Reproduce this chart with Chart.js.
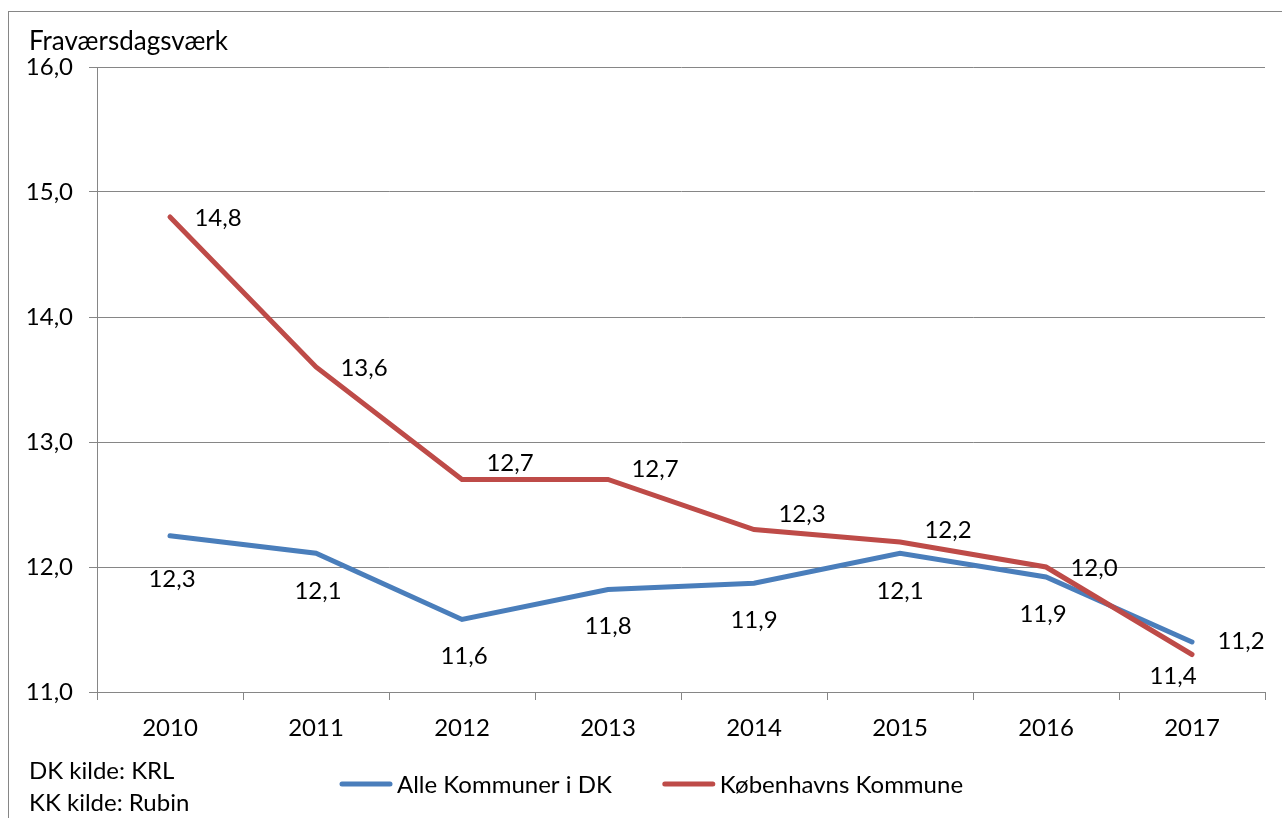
<!DOCTYPE html>
<html>
<head>
<meta charset="utf-8">
<script src="https://cdn.jsdelivr.net/npm/chart.js@4/dist/chart.umd.min.js"></script>
<style>
  html, body { margin: 0; padding: 0; background: #ffffff; }
  #wrap { width: 1282px; height: 818px; }
</style>
</head>
<body>
<div id="wrap"><canvas id="c" width="1282" height="818"></canvas></div>
<script>
// ---- data ----
const years = ['2010', '2011', '2012', '2013', '2014', '2015', '2016', '2017'];
const seriesNames = ['Alle Kommuner i DK', 'Københavns Kommune'];
const alleKommuner = [12.25, 12.11, 11.58, 11.82, 11.87, 12.11, 11.92, 11.40];
const koebenhavn = [14.8, 13.6, 12.7, 12.7, 12.3, 12.2, 12.0, 11.3];
const alleLabels = ['12,3', '12,1', '11,6', '11,8', '11,9', '12,1', '11,9', '11,4'];
const kbhLabels = ['14,8', '13,6', '12,7', '12,7', '12,3', '12,2', '12,0', '11,2'];
const yTicks = [11, 12, 13, 14, 15, 16];
const axisTitle = 'Fraværsdagsværk';
const notes = ['DK kilde: KRL', 'KK kilde: Rubin'];

// ---- style ----
const FONT = 'Lato, "Open Sans", sans-serif';
const FS = 24;
const BLUE = '#4A7EBB';
const RED = '#BE4B48';
const GRID = '#868686';
const labelOffsets = [
  { dx: [2, 2, 2, 0, 0, 0, -3, -19], dy: [44, 38, 37, 37, 37, 38, 37, 34] },
  { dx: [48, 48, 48, 47, 48, 48, 48, 49], dy: [1, 1, -16, -10, -15, -12, 1, -13] }
];
const seriesLabels = [alleLabels, kbhLabels];

const fmt = v => v.toFixed(1).replace('.', ',');

const decor = {
  id: 'decor',
  beforeDraw(chart) {
    const ctx = chart.ctx;
    ctx.save();
    ctx.fillStyle = '#ffffff';
    ctx.fillRect(0, 0, chart.width, chart.height);
    ctx.strokeStyle = GRID;
    ctx.lineWidth = 1;
    ctx.strokeRect(8.5, 11.5, 1400, 900);
    ctx.restore();
  },
  afterDatasetsDraw(chart) {
    const ctx = chart.ctx;
    ctx.save();
    ctx.font = FS + 'px ' + FONT;
    ctx.fillStyle = '#000000';
    ctx.textAlign = 'center';
    ctx.textBaseline = 'middle';
    chart.data.datasets.forEach((ds, i) => {
      const meta = chart.getDatasetMeta(i);
      meta.data.forEach((pt, j) => {
        const o = labelOffsets[i];
        ctx.fillText(seriesLabels[i][j], pt.x + o.dx[j], pt.y + o.dy[j]);
      });
    });
    ctx.restore();
  },
  afterDraw(chart) {
    const ctx = chart.ctx;
    ctx.save();
    ctx.fillStyle = '#000000';
    ctx.textAlign = 'left';
    ctx.textBaseline = 'middle';
    // axis title
    ctx.font = '26px ' + FONT;
    ctx.fillText(axisTitle, 29, 42);
    // notes
    ctx.font = FS + 'px ' + FONT;
    ctx.fillText(notes[0], 29, 771);
    ctx.fillText(notes[1], 29, 803);
    // legend
    const lineLen = 52, gapText = 5, itemGap = 51;
    const widths = chart.data.datasets.map(d => ctx.measureText(d.label).width);
    let x = 340;
    const ly = 784;
    chart.data.datasets.forEach((d, i) => {
      ctx.strokeStyle = d.borderColor;
      ctx.lineWidth = 5;
      ctx.lineCap = 'round';
      ctx.beginPath();
      ctx.moveTo(x + 2, ly);
      ctx.lineTo(x + lineLen - 2, ly);
      ctx.stroke();
      ctx.fillStyle = '#000000';
      ctx.fillText(d.label, x + lineLen + gapText, ly + 1);
      x += lineLen + gapText + widths[i] + itemGap;
    });
    ctx.restore();
  }
};

new Chart(document.getElementById('c'), {
  type: 'line',
  data: {
    labels: years,
    datasets: [
      { label: seriesNames[0], data: alleKommuner, borderColor: BLUE, backgroundColor: BLUE,
        borderWidth: 5, pointRadius: 0, tension: 0, borderCapStyle: 'round', order: 1 },
      { label: seriesNames[1], data: koebenhavn, borderColor: RED, backgroundColor: RED,
        borderWidth: 5, pointRadius: 0, tension: 0, borderCapStyle: 'round', order: 0 }
    ]
  },
  options: {
    responsive: false,
    animation: false,
    events: [],
    layout: { padding: { left: 0, top: 67, right: 17, bottom: 0 } },
    plugins: { legend: { display: false }, title: { display: false }, tooltip: { enabled: false } },
    scales: {
      x: {
        type: 'category',
        offset: true,
        grid: { offset: true, drawOnChartArea: false, drawTicks: true, tickLength: 8, color: GRID, lineWidth: 1 },
        border: { color: GRID, width: 1 },
        ticks: { color: '#000000', font: { family: FONT, size: FS }, padding: 14, maxRotation: 0 },
        afterFit(scale) { scale.height = 126; }
      },
      y: {
        min: 11,
        max: 16,
        afterBuildTicks(scale) { scale.ticks = yTicks.map(v => ({ value: v })); },
        grid: { color: GRID, lineWidth: 1, drawTicks: true, tickLength: 8 },
        border: { color: GRID, width: 1 },
        ticks: { color: '#000000', font: { family: FONT, size: FS }, padding: 16, callback: v => fmt(v) },
        afterFit(scale) { scale.width = 97; }
      }
    }
  },
  plugins: [decor]
});
</script>
</body>
</html>
